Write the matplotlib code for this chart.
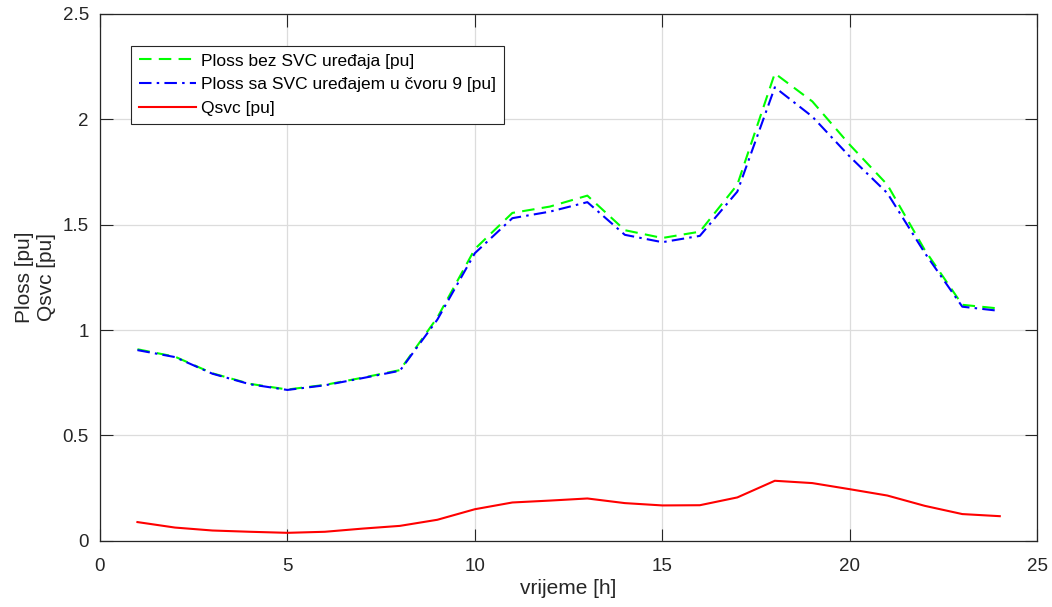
import numpy as np
import matplotlib.pyplot as plt

plt.rcParams['font.family'] = ['Liberation Sans', 'DejaVu Sans']

# sati u danu
sati = np.arange(1, 25)

# gubici bez SVC uredjaja [pu]
ploss_bez_svc = [0.909, 0.874, 0.795, 0.745, 0.718, 0.740, 0.774, 0.810,
                 1.060, 1.385, 1.556, 1.586, 1.638, 1.474, 1.437, 1.467,
                 1.690, 2.218, 2.085, 1.879, 1.690, 1.380, 1.120, 1.102]

# gubici sa SVC uredjajem u cvoru 9 [pu]
ploss_sa_svc = [0.905, 0.872, 0.793, 0.743, 0.716, 0.738, 0.772, 0.807,
                1.050, 1.365, 1.531, 1.562, 1.607, 1.452, 1.417, 1.447,
                1.657, 2.152, 2.013, 1.823, 1.650, 1.366, 1.111, 1.091]

# reaktivna snaga SVC uredjaja [pu]
qsvc = [0.089, 0.063, 0.049, 0.043, 0.038, 0.043, 0.058, 0.071,
        0.100, 0.150, 0.182, 0.191, 0.201, 0.179, 0.168, 0.169,
        0.206, 0.285, 0.274, 0.245, 0.215, 0.166, 0.127, 0.117]

fig = plt.figure(figsize=(10.52, 6.07), dpi=100)
ax = fig.add_axes([0.095, 0.109, 0.891, 0.868])

ax.plot(sati, ploss_bez_svc, color='#00ff00', linestyle=(0, (6, 3.5)), linewidth=1.5,
        label='Ploss bez SVC uređaja [pu]')
ax.plot(sati, ploss_sa_svc, color='#0000ff', linestyle=(0, (6, 2.5, 1.2, 2.5)), linewidth=1.5,
        label='Ploss sa SVC uređajem u čvoru 9 [pu]')
ax.plot(sati, qsvc, color='#ff0000', linestyle='-', linewidth=1.5, label='Qsvc [pu]')

ax.set_xlim(0, 25)
ax.set_ylim(0, 2.5)
ax.set_xticks(np.arange(0, 26, 5))
ax.set_yticks(np.arange(0, 2.51, 0.5))
ax.set_yticklabels(['0', '0.5', '1', '1.5', '2', '2.5'])

ax.grid(True, color='#dcdcdc', linewidth=0.9)
ax.set_axisbelow(True)
ax.tick_params(direction='in', length=9, width=0.8, colors='#262626',
               labelsize=13.5, top=True, right=True)
ax.tick_params(axis='x', pad=12)
ax.tick_params(axis='y', pad=8)
for s in ax.spines.values():
    s.set_color('#262626')
    s.set_linewidth(0.9)

ax.set_xlabel('vrijeme [h]', fontsize=15, color='#262626', labelpad=3)
ax.set_ylabel('Ploss [pu]\nQsvc [pu]', fontsize=15, color='#262626', labelpad=5,
              linespacing=1.15)

leg = ax.legend(loc='upper left', bbox_to_anchor=(0.033, 0.94), fontsize=12.5,
                frameon=True, fancybox=False, framealpha=1, edgecolor='#262626',
                handlelength=3.3, handletextpad=0.3, borderpad=0.45,
                labelspacing=0.5, borderaxespad=0)
leg.get_frame().set_linewidth(0.8)

fig.savefig('out.png', dpi=100)
